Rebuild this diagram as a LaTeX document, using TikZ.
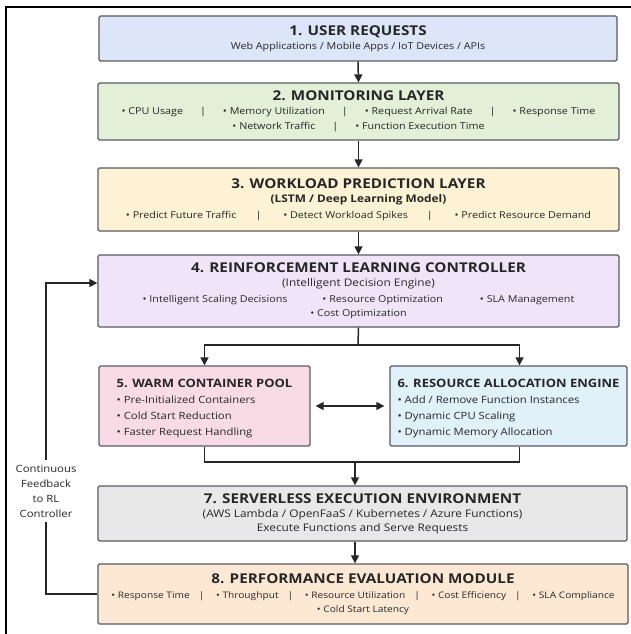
\documentclass[tikz,border=0pt]{standalone}
\usepackage{fontspec}
\setmainfont{Open Sans}[FakeStretch=1.13]
\usetikzlibrary{arrows.meta}
\definecolor{Bd}{RGB}{88, 90, 98}
\definecolor{Tx}{RGB}{38, 38, 40}
\definecolor{C1}{RGB}{221, 229, 248}
\definecolor{C2}{RGB}{227, 239, 214}
\definecolor{C3}{RGB}{253, 243, 212}
\definecolor{C4}{RGB}{240, 229, 248}
\definecolor{C5}{RGB}{249, 219, 230}
\definecolor{C6}{RGB}{224, 241, 250}
\definecolor{C7}{RGB}{232, 232, 232}
\definecolor{C8}{RGB}{253, 233, 211}
\newcommand{\hd}{\fontsize{13.5}{16}\selectfont\bfseries}
\newcommand{\hdsm}{\fontsize{11.5}{14}\selectfont\bfseries}
\newcommand{\sub}{\fontsize{10.5}{13}\selectfont}
\newcommand{\sep}[1][17pt]{\hspace{#1}|\hspace{#1}}

\begin{document}
\begin{tikzpicture}[x=1pt, y=-1pt,
  box/.style={draw=Bd, line width=1.3pt, rounded corners=1.5pt, align=center,
    inner sep=0pt, text=Tx, font=\fontsize{9.5}{15}\selectfont},
  conn/.style={draw=black!85, line width=1.5pt},
  tip/.style={-{Triangle[length=8pt,width=8pt]}}]
  \useasboundingbox (0,0) rectangle (631,634);
  % frame
  \draw[black, line width=1.2pt] (631,7) -- (6,7) -- (6,634);

  % layers
  \node[box, fill=C1, minimum width=518, minimum height=45] (b1) at (358,38.5)
    {{\hd 1. USER REQUESTS}\\[-1pt] Web Applications / Mobile Apps / IoT Devices / APIs};
  \node[box, fill=C2, minimum width=521, minimum height=57] (b2) at (358.5,111.5)
    {{\hd 2. MONITORING LAYER}\\[-1pt]
     • CPU Usage\sep • Memory Utilization\sep • Request Arrival Rate\sep • Response Time\\
     • Network Traffic\sep • Function Execution Time};
  \node[box, fill=C3, minimum width=521, minimum height=63] (b3) at (358.5,199.5)
    {{\hd 3. WORKLOAD PREDICTION LAYER}\\[-1pt] {\sub\bfseries (LSTM / Deep Learning Model)}\\[1pt]
     • Predict Future Traffic\sep[19pt] • Detect Workload Spikes\sep[19pt] • Predict Resource Demand};
  \node[box, fill=C4, minimum width=521, minimum height=72] (b4) at (358.5,291)
    {{\hd 4. REINFORCEMENT LEARNING CONTROLLER}\\[-1pt] {\sub (Intelligent Decision Engine)}\\[1pt]
     • Intelligent Scaling Decisions\hspace{35pt}• Resource Optimization\hspace{37pt}• SLA Management\\[-1pt]
     • Cost Optimization};
  \node[box, fill=C5, minimum width=211, minimum height=80, align=left, font=\fontsize{10}{16}\selectfont] (b5) at (204.5,406)
    {\rule{0pt}{14pt}{\hdsm 5. WARM CONTAINER POOL}\\
     • Pre-Initialized Containers\\ • Cold Start Reduction\\ • Faster Request Handling};
  \node[box, fill=C6, minimum width=237, minimum height=80, align=left, font=\fontsize{10}{16}\selectfont] (b6) at (508.5,406)
    {\rule{0pt}{14pt}{\hdsm 6. RESOURCE ALLOCATION ENGINE}\\
     • Add / Remove Function Instances\\ • Dynamic CPU Scaling\\ • Dynamic Memory Allocation};
  \node[box, fill=C7, minimum width=529, minimum height=55] (b7) at (362.5,513.5)
    {{\hd 7. SERVERLESS EXECUTION ENVIRONMENT}\\[-1pt] {\sub (AWS Lambda / OpenFaaS / Kubernetes / Azure Functions)}\\[-1pt]
     {\sub Execute Functions and Serve Requests}};
  \node[box, fill=C8, minimum width=530, minimum height=60, font=\fontsize{9}{15}\selectfont] (b8) at (363,594)
    {{\hd 8. PERFORMANCE EVALUATION MODULE}\\
     • Response Time\sep[9pt] • Throughput\sep[9pt] • Resource Utilization\sep[9pt] • Cost Efficiency\sep[9pt] • SLA Compliance\\[-1pt]
     • Cold Start Latency};

  % connectors
  \coordinate (fk) at (358,345);
  \coordinate (mg) at (355,462);
  \coordinate (fb) at (46,283);
  \draw[conn, tip] (b1.south) -- (b2.north);
  \draw[conn, tip] (b2.south) -- (b3.north);
  \draw[conn, tip] (b3.south) -- (b4.north);
  \draw[conn] (b4.south) -- (fk);
  \draw[conn, tip] (fk) -| (b5.north);
  \draw[conn, tip] (fk) -| ([xshift=11pt]b6.north);
  \draw[conn, {Triangle[length=8pt,width=8pt]}-{Triangle[length=8pt,width=8pt]}]
    ([xshift=5pt]b5.east) -- ([xshift=-5pt]b6.west);
  \draw[conn] (b5.south) |- (mg) -| ([xshift=11pt]b6.south);
  \draw[conn, tip] (mg) -- (mg |- b7.north);
  \draw[conn, tip] (b7.south -| mg) -- (b8.north -| mg);
  \draw[conn, tip] (b8.west) -| (fb) -- (fb -| b4.west);
  \node[fill=white, align=center, text=Tx, font=\fontsize{10}{15}\selectfont, inner xsep=1pt, inner ysep=5pt] (fbl) at (46,491)
    {Continuous\\Feedback\\to RL\\Controller};
\end{tikzpicture}
\end{document}
